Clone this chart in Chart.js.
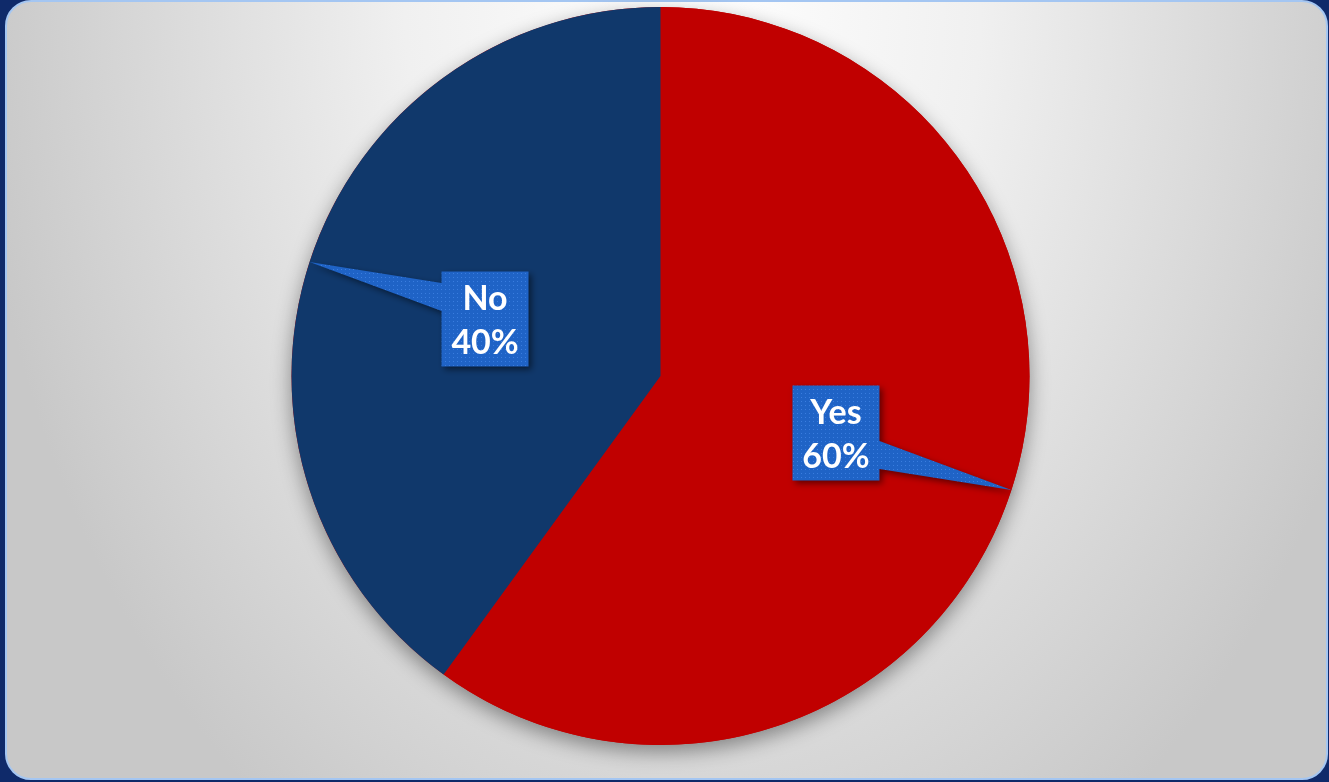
<!DOCTYPE html>
<html>
<head>
<meta charset="utf-8">
<script src="https://cdn.jsdelivr.net/npm/chart.js@4"></script>
<style>
  html, body { margin: 0; padding: 0; }
  body { width: 1329px; height: 782px; background: #0f2a6a; position: relative; overflow: hidden; }
  #frame {
    position: absolute; left: 5px; top: 0; width: 1319px; height: 776px;
    border: 2px solid #a4c6f2; border-radius: 26px;
    background: radial-gradient(ellipse 720px 1000px at 52% 0%, #ffffff 0%, #f0f0f0 40%, #c8c8c8 100%);
  }
  #wrap { position: absolute; left: 0; top: 0; width: 1329px; height: 782px; }
</style>
</head>
<body>
<div id="frame"></div>
<div id="wrap"><canvas id="pie"></canvas></div>
<script>
const labels = ['Yes', 'No'];
const values = [60, 40];
const colors = ['#c00000', '#10386b'];

// dotted fill for the label boxes
function dotPattern(ctx) {
  let c = document.createElement('canvas');
  c.width = 4; c.height = 4;
  let p = c.getContext('2d');
  p.fillStyle = '#1f63c6';
  p.fillRect(0, 0, 4, 4);
  p.fillStyle = '#3a7ddf';
  p.fillRect(1, 1, 1, 1);
  return ctx.createPattern(c, 'repeat');
}

const pieShadow = {
  id: 'pieShadow',
  beforeDatasetsDraw(chart) {
    let arc = chart.getDatasetMeta(0).data[0];
    let ctx = chart.ctx;
    ctx.save();
    ctx.shadowColor = 'rgba(0,0,0,0.4)';
    ctx.shadowBlur = 20;
    ctx.shadowOffsetY = 7;
    ctx.fillStyle = colors[0];
    ctx.beginPath();
    ctx.arc(arc.x, arc.y, arc.outerRadius, 0, Math.PI * 2);
    ctx.fill();
    ctx.restore();
  }
};

const callouts = {
  id: 'callouts',
  afterDatasetsDraw(chart) {
    let ctx = chart.ctx;
    let total = values.reduce((a, b) => a + b, 0);
    let pat = dotPattern(ctx);
    chart.getDatasetMeta(0).data.forEach((arc, i) => {
      let mid = (arc.startAngle + arc.endAngle) / 2;
      let r = arc.outerRadius;
      let cx = arc.x + Math.cos(mid) * r * 0.5;
      let cy = arc.y + Math.sin(mid) * r * 0.5;
      let tx = arc.x + Math.cos(mid) * r;
      let ty = arc.y + Math.sin(mid) * r;
      let w = 87, h = 95;
      let dx = Math.cos(mid) >= 0 ? 1 : -1;
      let dy = Math.sin(mid) >= 0 ? 1 : -1;
      let ex = cx + dx * w / 2;

      ctx.save();
      ctx.shadowColor = 'rgba(0,0,0,0.5)';
      ctx.shadowBlur = 6;
      ctx.shadowOffsetX = 3;
      ctx.shadowOffsetY = 3;
      ctx.fillStyle = pat;
      ctx.beginPath();
      ctx.rect(cx - w / 2, cy - h / 2, w, h);
      ctx.moveTo(ex, cy + dy * 8);
      ctx.lineTo(tx, ty);
      ctx.lineTo(ex, cy + dy * 36);
      ctx.closePath();
      ctx.fill();
      ctx.restore();

      ctx.save();
      ctx.fillStyle = '#ffffff';
      ctx.font = 'bold 34px Lato';
      ctx.textAlign = 'center';
      ctx.textBaseline = 'middle';
      ctx.fillText(labels[i], cx, cy - 20);
      ctx.fillText(Math.round(values[i] / total * 100) + '%', cx, cy + 24);
      ctx.restore();
    });
  }
};

new Chart(document.getElementById('pie'), {
  type: 'pie',
  data: {
    labels: labels,
    datasets: [{
      data: values,
      backgroundColor: colors,
      borderWidth: 0
    }]
  },
  options: {
    responsive: true,
    maintainAspectRatio: false,
    animation: false,
    layout: { padding: { top: 7, bottom: 37, left: 0, right: 8 } },
    plugins: {
      legend: { display: false },
      tooltip: { enabled: false }
    }
  },
  plugins: [pieShadow, callouts]
});
</script>
</body>
</html>
